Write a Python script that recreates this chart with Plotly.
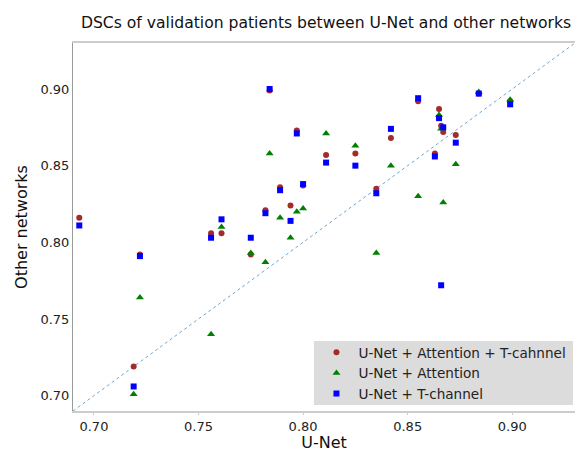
import plotly.graph_objects as go

# U-Net DSC per validation patient (x axis)
unet = [0.693, 0.719, 0.722, 0.756, 0.761, 0.775, 0.782, 0.784, 0.789, 0.794,
        0.797, 0.800, 0.811, 0.825, 0.835, 0.842, 0.855, 0.863, 0.865, 0.866,
        0.867, 0.873, 0.884, 0.899]
# Other networks (y axis)
att_tch = [0.816, 0.719, 0.792, 0.806, 0.806, 0.792, 0.821, 0.899, 0.836, 0.824,
           0.873, 0.837, 0.857, 0.858, 0.835, 0.868, 0.892, 0.858, 0.887, 0.876,
           0.872, 0.870, 0.897, 0.892]
att = [None, 0.701, 0.764, 0.740, 0.810, 0.793, 0.787, 0.858, 0.816, 0.803,
       0.820, 0.822, 0.871, 0.863, 0.793, 0.850, 0.830, None, 0.883, 0.874,
       0.826, 0.851, 0.898, 0.893]
tch = [0.811, 0.706, 0.791, 0.803, 0.815, 0.803, 0.819, 0.900, 0.834, 0.814,
       0.871, 0.838, 0.852, 0.850, 0.832, 0.874, 0.894, 0.856, 0.881, 0.772,
       0.875, 0.865, 0.897, 0.890]

series_names = ["U-Net + Attention + T-cahnnel", "U-Net + Attention", "U-Net + T-channel"]
axis_range = [0.69, 0.93]
tick_vals = [0.70, 0.75, 0.80, 0.85, 0.90]
tick_text = ["0.70", "0.75", "0.80", "0.85", "0.90"]

FONT = "DejaVu Sans"

fig = go.Figure()
# identity line y = x across the axis range
fig.add_trace(go.Scatter(x=axis_range, y=axis_range, mode="lines",
                         line=dict(color="rgba(31,119,180,0.65)", width=1, dash="dot"),
                         showlegend=False, hoverinfo="skip"))
fig.add_trace(go.Scatter(x=unet, y=att_tch, mode="markers", name=series_names[0],
                         marker=dict(symbol="circle", size=6, color="#a52a2a")))
fig.add_trace(go.Scatter(x=unet, y=att, mode="markers", name=series_names[1],
                         marker=dict(symbol="triangle-up", size=7, color="#008000")))
fig.add_trace(go.Scatter(x=unet, y=tch, mode="markers", name=series_names[2],
                         marker=dict(symbol="square", size=6, color="#0000ff")))

# legend background box
fig.add_shape(type="rect", xref="paper", yref="paper", x0=0.480, x1=0.996, y0=0.0163, y1=0.190,
              fillcolor="#dcdcdc", line=dict(width=0), layer="above")

fig.update_layout(
    width=575, height=452,
    margin=dict(l=73, r=0, t=43, b=41),
    paper_bgcolor="white", plot_bgcolor="white",
    font=dict(family=FONT, size=13, color="#222"),
    title=dict(text="DSCs of validation patients between U-Net and other networks",
               x=0.567, xanchor="center", y=0.951, yanchor="middle", yref="container",
               font=dict(family=FONT, size=15.6, color="#111")),
    legend=dict(x=0.481, y=0.003, xanchor="left", yanchor="bottom",
                bgcolor="rgba(0,0,0,0)", borderwidth=0, itemwidth=34,
                font=dict(family=FONT, size=13.6, color="#222"),
                tracegroupgap=0),
    xaxis=dict(range=axis_range, tickvals=tick_vals, ticktext=tick_text, automargin=False,
               showgrid=False, zeroline=False, showline=True, linecolor="#cccccc",
               linewidth=2, mirror=True, ticks="outside", ticklen=2, tickcolor="#cccccc",
               tickfont=dict(family=FONT, size=13, color="#222"),
               title=dict(text="U-Net", font=dict(family=FONT, size=16, color="#111"), standoff=11)),
    yaxis=dict(range=axis_range, tickvals=tick_vals, ticktext=tick_text, automargin=False,
               showgrid=False, zeroline=False, showline=True, linecolor="#999999",
               linewidth=1, mirror=False, ticks="",
               tickfont=dict(family=FONT, size=13, color="#222"),
               title=dict(text="Other networks", font=dict(family=FONT, size=16, color="#111"), standoff=8)),
)

fig.write_html("out.html", config={"displayModeBar": False},
               post_script="document.body.style.margin='0';document.body.style.overflow='hidden';")
